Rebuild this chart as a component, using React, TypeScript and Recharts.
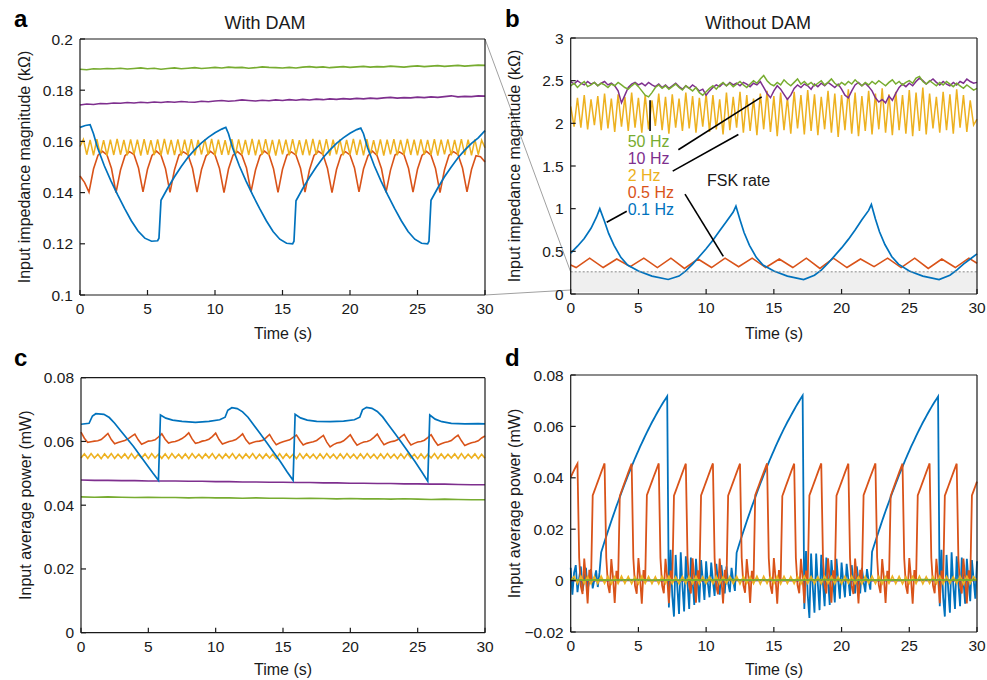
import { LineChart, Line, XAxis, YAxis, ReferenceArea, ReferenceLine } from 'recharts';
import type { ReactNode } from 'react';

const FONT = '"Liberation Sans", Arial, Helvetica, sans-serif';
const BLUE = '#0072BD';
const ORANGE = '#D95319';
const YELLOW = '#EDB120';
const PURPLE = '#7E2F8E';
const GREEN = '#77AC30';
const INK = '#1a1a1a';

const TIME_TICKS = [0, 5, 10, 15, 20, 25, 30];
const A_TICKS = [0.1, 0.12, 0.14, 0.16, 0.18, 0.2];
const B_TICKS = [0, 0.5, 1, 1.5, 2, 2.5, 3];
const C_TICKS = [0, 0.02, 0.04, 0.06, 0.08];
const D_TICKS = [-0.02, 0, 0.02, 0.04, 0.06, 0.08];

// ---- panel a: with DAM, impedance (kOhm) ----
const aGreen = [
  0.1882, 0.1880, 0.1884, 0.1883, 0.1885, 0.1884, 0.1886, 0.1883, 0.1885, 0.1887, 0.1884,
  0.1886, 0.1882, 0.1885, 0.1887, 0.1884, 0.1886, 0.1888, 0.1885, 0.1887, 0.1889,
  0.1887, 0.1890, 0.1888, 0.1889, 0.1886, 0.1888, 0.1891, 0.1889, 0.1888, 0.1887,
  0.1889, 0.1887, 0.1890, 0.1892, 0.1889, 0.1891, 0.1888, 0.1890, 0.1892, 0.1889,
  0.1891, 0.1893, 0.1890, 0.1892, 0.1891, 0.1894, 0.1892, 0.1890, 0.1893, 0.1895,
  0.1892, 0.1894, 0.1896, 0.1893, 0.1895, 0.1897, 0.1894, 0.1896, 0.1898, 0.1897,
];
const aPurple = [
  0.1742, 0.1746, 0.1744, 0.1748, 0.1747, 0.1750, 0.1749, 0.1752, 0.1750, 0.1753, 0.1751,
  0.1754, 0.1752, 0.1755, 0.1753, 0.1756, 0.1754, 0.1753, 0.1757, 0.1755, 0.1758,
  0.1760, 0.1757, 0.1759, 0.1762, 0.1760, 0.1758, 0.1761, 0.1759, 0.1762, 0.1760,
  0.1763, 0.1761, 0.1764, 0.1762, 0.1765, 0.1763, 0.1766, 0.1764, 0.1767, 0.1765,
  0.1768, 0.1766, 0.1769, 0.1767, 0.1770, 0.1772, 0.1769, 0.1771, 0.1770, 0.1773,
  0.1771, 0.1774, 0.1772, 0.1775, 0.1778, 0.1774, 0.1776, 0.1775, 0.1778, 0.1777,
];
const aYellow = [
  0.1580, 0.1608, 0.1548, 0.1606, 0.1546, 0.1609, 0.1549, 0.1605, 0.1545, 0.1607,
  0.1547, 0.1610, 0.1548, 0.1606, 0.1546, 0.1608, 0.1549, 0.1607, 0.1545, 0.1609,
  0.1548, 0.1605, 0.1547, 0.1608, 0.1546, 0.1610, 0.1549, 0.1606, 0.1547, 0.1608,
  0.1545, 0.1607, 0.1548, 0.1609, 0.1546, 0.1606, 0.1549, 0.1608, 0.1547, 0.1610,
  0.1546, 0.1607, 0.1548, 0.1605, 0.1547, 0.1609, 0.1545, 0.1608, 0.1549, 0.1606,
  0.1547, 0.1610, 0.1546, 0.1607, 0.1548, 0.1609, 0.1547, 0.1606, 0.1545, 0.1608,
  0.1549, 0.1607, 0.1546, 0.1609, 0.1548, 0.1605, 0.1547, 0.1608, 0.1546, 0.1610,
  0.1548, 0.1606, 0.1547, 0.1609, 0.1545, 0.1607, 0.1549, 0.1608, 0.1546, 0.1606,
  0.1548, 0.1610, 0.1547, 0.1607, 0.1546, 0.1609, 0.1548, 0.1605, 0.1547, 0.1608,
  0.1545, 0.1607, 0.1549, 0.1609, 0.1546, 0.1606, 0.1548, 0.1610, 0.1547, 0.1607,
  0.1546, 0.1608, 0.1548, 0.1606, 0.1547, 0.1609, 0.1545, 0.1607, 0.1549, 0.1608,
  0.1546, 0.1606, 0.1548, 0.1609, 0.1547, 0.1607, 0.1546, 0.1608, 0.1548, 0.1605,
  0.1575,
];
// sampled every 1/3 s, cusps at the troughs
const aOrange = [
  0.1465, 0.1440,
  0.1402, 0.1492, 0.1546, 0.1561, 0.1547, 0.1494,
  0.1400, 0.1488, 0.1544, 0.1560, 0.1549, 0.1496,
  0.1403, 0.1491, 0.1545, 0.1562, 0.1546, 0.1493,
  0.1401, 0.1489, 0.1547, 0.1559, 0.1548, 0.1495,
  0.1402, 0.1490, 0.1543, 0.1561, 0.1547, 0.1494,
  0.1400, 0.1492, 0.1546, 0.1560, 0.1545, 0.1496,
  0.1403, 0.1488, 0.1544, 0.1562, 0.1548, 0.1493,
  0.1401, 0.1491, 0.1547, 0.1559, 0.1546, 0.1495,
  0.1402, 0.1489, 0.1545, 0.1561, 0.1549, 0.1494,
  0.1400, 0.1490, 0.1546, 0.1560, 0.1547, 0.1496,
  0.1403, 0.1492, 0.1544, 0.1562, 0.1545, 0.1493,
  0.1401, 0.1488, 0.1547, 0.1559, 0.1548, 0.1495,
  0.1402, 0.1491, 0.1545, 0.1561, 0.1546, 0.1494,
  0.1400, 0.1489, 0.1546, 0.1560, 0.1549, 0.1496,
  0.1403, 0.1490, 0.1544, 0.1540, 0.1520,
];
const aBlueT = [
  0, 0.4, 0.75, 1.0, 1.3, 1.8, 2.3, 2.8, 3.3, 3.8, 4.3, 4.8, 5.3, 5.75, 5.85, 6.0, 6.5, 7.0, 7.5, 8.0, 8.5, 9.0, 9.5, 10.0, 10.5, 10.8,
  11.0, 11.3, 11.8, 12.3, 12.8, 13.3, 13.8, 14.3, 14.8, 15.3, 15.75, 15.85, 16.0, 16.5, 17.0, 17.5, 18.0, 18.5, 19.0, 19.5, 20.0, 20.5, 20.8,
  21.0, 21.3, 21.8, 22.3, 22.8, 23.3, 23.8, 24.3, 24.8, 25.3, 25.75, 25.85, 26.0, 26.5, 27.0, 27.5, 28.0, 28.5, 29.0, 29.5, 30.0,
];
const aBlueV = [
  0.1655, 0.1662, 0.1665, 0.1630, 0.1575, 0.1505, 0.1445, 0.1390, 0.1338, 0.1290, 0.1250, 0.1222, 0.1210, 0.1212, 0.1222, 0.1370, 0.1418, 0.1462, 0.1502, 0.1538, 0.1568, 0.1594, 0.1616, 0.1634, 0.1648, 0.1655,
  0.1630, 0.1575, 0.1505, 0.1445, 0.1390, 0.1338, 0.1290, 0.1248, 0.1218, 0.1202, 0.1200, 0.1210, 0.1368, 0.1416, 0.1460, 0.1500, 0.1536, 0.1566, 0.1592, 0.1614, 0.1632, 0.1646, 0.1652,
  0.1630, 0.1575, 0.1505, 0.1445, 0.1390, 0.1338, 0.1290, 0.1248, 0.1218, 0.1202, 0.1200, 0.1210, 0.1370, 0.1418, 0.1462, 0.1500, 0.1536, 0.1566, 0.1592, 0.1614, 0.1642,
];

// ---- panel b: without DAM, impedance (kOhm) ----
const bGreen = [
  2.44, 2.47, 2.42, 2.46, 2.49, 2.43, 2.45, 2.48, 2.44, 2.47,
  2.45, 2.42, 2.46, 2.44, 2.48, 2.45, 2.42, 2.40, 2.44, 2.47,
  2.43, 2.38, 2.33, 2.31, 2.36, 2.42, 2.45, 2.41, 2.44, 2.40,
  2.43, 2.46, 2.42, 2.39, 2.44, 2.41, 2.38, 2.42, 2.36, 2.33,
  2.37, 2.41, 2.44, 2.40, 2.45, 2.48, 2.44, 2.47, 2.43, 2.46,
  2.49, 2.45, 2.42, 2.46, 2.50, 2.47, 2.52, 2.56, 2.50, 2.46,
  2.44, 2.48, 2.45, 2.51, 2.47, 2.44, 2.48, 2.52, 2.46, 2.49,
  2.45, 2.48, 2.44, 2.47, 2.50, 2.45, 2.48, 2.52, 2.47, 2.44,
  2.48, 2.45, 2.49, 2.46, 2.51, 2.47, 2.44, 2.48, 2.45, 2.49,
  2.46, 2.50, 2.47, 2.44, 2.48, 2.51, 2.46, 2.49, 2.45, 2.48,
  2.50, 2.47, 2.53, 2.55, 2.49, 2.46, 2.50, 2.47, 2.44, 2.48,
  2.45, 2.49, 2.46, 2.43, 2.47, 2.44, 2.41, 2.45, 2.42, 2.39,
  2.41,
];
const bPurple = [
  2.49, 2.46, 2.50, 2.47, 2.45, 2.49, 2.46, 2.48, 2.44, 2.47,
  2.49, 2.45, 2.47, 2.44, 2.38, 2.24, 2.33, 2.42, 2.46, 2.48,
  2.45, 2.47, 2.44, 2.48, 2.45, 2.43, 2.46, 2.42, 2.45, 2.41,
  2.44, 2.47, 2.43, 2.40, 2.44, 2.41, 2.45, 2.42, 2.38, 2.40,
  2.33, 2.38, 2.42, 2.45, 2.43, 2.47, 2.44, 2.48, 2.45, 2.47,
  2.44, 2.48, 2.46, 2.43, 2.47, 2.45, 2.49, 2.42, 2.35, 2.30,
  2.38, 2.44, 2.40, 2.34, 2.28, 2.33, 2.41, 2.45, 2.42, 2.46,
  2.44, 2.40, 2.46, 2.43, 2.47, 2.44, 2.48, 2.45, 2.42, 2.46,
  2.40, 2.33, 2.30, 2.38, 2.45, 2.48, 2.44, 2.47, 2.43, 2.38,
  2.30, 2.25, 2.28, 2.24, 2.32, 2.27, 2.35, 2.42, 2.46, 2.43,
  2.47, 2.44, 2.49, 2.53, 2.50, 2.46, 2.49, 2.52, 2.48, 2.45,
  2.49, 2.46, 2.44, 2.48, 2.45, 2.49, 2.47, 2.52, 2.49, 2.47,
  2.48,
];
const bYellow = [
  2.20, 1.96, 2.30, 1.95, 2.33, 1.93, 2.28, 1.98, 2.32, 1.92,
  2.35, 1.94, 2.29, 1.90, 2.34, 1.96, 2.31, 1.91, 2.36, 1.95,
  2.30, 1.89, 2.33, 1.93, 2.27, 1.97, 2.35, 1.92, 2.31, 1.88,
  2.34, 1.95, 2.29, 1.91, 2.36, 1.94, 2.32, 1.89, 2.30, 1.96,
  2.35, 1.90, 2.33, 1.93, 2.28, 1.87, 2.36, 1.92, 2.31, 1.95,
  2.37, 1.89, 2.33, 1.91, 2.29, 1.86, 2.35, 1.93, 2.38, 1.90,
  2.32, 1.85, 2.36, 1.92, 2.30, 1.88, 2.37, 1.94, 2.33, 1.87,
  2.39, 1.91, 2.34, 1.86, 2.31, 1.93, 2.38, 1.89, 2.35, 1.84,
  2.33, 1.92, 2.40, 1.88, 2.36, 1.85, 2.32, 1.91, 2.38, 1.87,
  2.35, 1.93, 2.41, 1.89, 2.34, 1.86, 2.37, 1.92, 2.33, 1.88,
  2.39, 1.85, 2.36, 1.91, 2.42, 1.87, 2.35, 1.94, 2.31, 1.89,
  2.37, 1.92, 2.34, 1.88, 2.40, 1.95, 2.33, 1.90, 2.27, 1.98,
  2.05,
];
const bOrangeT = [
  0, 0.4, 1.4, 2.4, 3.4, 4.4, 5.4, 6.4, 7.4, 8.4, 9.4, 10.4, 11.4, 12.4, 13.4, 14.4,
  15.4, 16.4, 17.4, 18.4, 19.4, 20.4, 21.4, 22.4, 23.4, 24.4, 25.4, 26.4, 27.4, 28.4, 29.4, 30,
];
const bOrangeV = [
  0.34, 0.31, 0.42, 0.31, 0.41, 0.32, 0.42, 0.31, 0.42, 0.30, 0.41, 0.31, 0.42, 0.32, 0.42, 0.31,
  0.41, 0.31, 0.42, 0.30, 0.42, 0.31, 0.41, 0.32, 0.42, 0.31, 0.42, 0.30, 0.41, 0.31, 0.42, 0.36,
];
const bBlueT = [
  0, 0.5, 1, 1.5, 1.9, 2.15, 2.5, 2.8, 3.2, 3.7, 4.2, 5.0, 6.0, 7.2,
  8, 8.5, 9, 9.5, 10, 10.5, 11, 11.5, 12, 12.2, 12.5, 12.8, 13.2, 13.7, 14.2, 15, 16, 17.2,
  18, 18.5, 19, 19.5, 20, 20.5, 21, 21.5, 22, 22.2, 22.5, 22.8, 23.2, 23.7, 24.2, 25, 26, 27.2,
  28, 28.5, 29, 29.5, 30,
];
const bBlueV = [
  0.48, 0.56, 0.65, 0.77, 0.90, 1.00, 0.85, 0.71, 0.57, 0.43, 0.34, 0.27, 0.21, 0.17,
  0.21, 0.27, 0.35, 0.44, 0.53, 0.63, 0.74, 0.85, 0.96, 1.03, 0.87, 0.72, 0.57, 0.43, 0.34, 0.27, 0.21, 0.17,
  0.22, 0.28, 0.36, 0.45, 0.54, 0.64, 0.75, 0.87, 0.98, 1.05, 0.88, 0.73, 0.58, 0.44, 0.35, 0.27, 0.21, 0.17,
  0.22, 0.28, 0.35, 0.41, 0.47,
];
const bLabels = [
  { text: '50 Hz', color: GREEN },
  { text: '10 Hz', color: PURPLE },
  { text: '2 Hz', color: YELLOW },
  { text: '0.5 Hz', color: ORANGE },
  { text: '0.1 Hz', color: BLUE },
];
// pointer lines from the FSK-rate labels to the traces (time, kOhm)
const bPointers = [
  [{ x: 5.86, y: 2.27 }, { x: 5.86, y: 1.91 }],
  [{ x: 7.95, y: 1.69 }, { x: 14.1, y: 2.31 }],
  [{ x: 7.53, y: 1.44 }, { x: 12.38, y: 1.87 }],
  [{ x: 8.44, y: 1.17 }, { x: 11.27, y: 0.44 }],
  [{ x: 2.66, y: 0.84 }, { x: 4.14, y: 0.97 }],
];

// ---- panel c: with DAM, power (mW) ----
const cGreen = [
  0.0426, 0.0425, 0.0426, 0.0425, 0.0424, 0.0425, 0.0424, 0.0424, 0.0423, 0.0424, 0.0423,
  0.0423, 0.0422, 0.0423, 0.0422, 0.0422, 0.0421, 0.0422, 0.0421, 0.0420, 0.0421,
  0.0420, 0.0420, 0.0419, 0.0420, 0.0419, 0.0418, 0.0419, 0.0418, 0.0417, 0.0417,
];
const cPurple = [
  0.0479, 0.0478, 0.0478, 0.0477, 0.0477, 0.0476, 0.0476, 0.0476, 0.0475, 0.0475, 0.0474,
  0.0474, 0.0473, 0.0473, 0.0472, 0.0472, 0.0471, 0.0471, 0.0470, 0.0470, 0.0469,
  0.0469, 0.0468, 0.0468, 0.0467, 0.0467, 0.0466, 0.0466, 0.0465, 0.0464, 0.0464,
];
const cYellow = [
  0.0548, 0.0561, 0.0547, 0.0562, 0.0548, 0.0560, 0.0546, 0.0561, 0.0548, 0.0562,
  0.0547, 0.0560, 0.0548, 0.0561, 0.0546, 0.0562, 0.0547, 0.0560, 0.0548, 0.0561,
  0.0546, 0.0562, 0.0548, 0.0560, 0.0547, 0.0561, 0.0546, 0.0562, 0.0548, 0.0560,
  0.0547, 0.0561, 0.0546, 0.0562, 0.0548, 0.0560, 0.0547, 0.0561, 0.0548, 0.0562,
  0.0546, 0.0560, 0.0547, 0.0561, 0.0548, 0.0562, 0.0546, 0.0560, 0.0547, 0.0561,
  0.0548, 0.0562, 0.0546, 0.0560, 0.0547, 0.0561, 0.0548, 0.0560, 0.0546, 0.0562,
  0.0547, 0.0561, 0.0548, 0.0560, 0.0546, 0.0562, 0.0547, 0.0561, 0.0548, 0.0560,
  0.0546, 0.0561, 0.0547, 0.0562, 0.0548, 0.0560, 0.0546, 0.0561, 0.0547, 0.0562,
  0.0548, 0.0560, 0.0546, 0.0561, 0.0547, 0.0562, 0.0548, 0.0560, 0.0546, 0.0561,
  0.0547, 0.0562, 0.0548, 0.0560, 0.0546, 0.0561, 0.0547, 0.0562, 0.0548, 0.0560,
  0.0546, 0.0561, 0.0547, 0.0560, 0.0548, 0.0562, 0.0546, 0.0561, 0.0547, 0.0560,
  0.0548, 0.0561, 0.0546, 0.0562, 0.0547, 0.0560, 0.0548, 0.0561, 0.0546, 0.0560,
  0.0547,
];
const cOrange = [
  0.0629, 0.0610, 0.0597, 0.0599, 0.0601, 0.0602, 0.0606, 0.0615,
  0.0625, 0.0606, 0.0593, 0.0597, 0.0600, 0.0603, 0.0608, 0.0616,
  0.0623, 0.0605, 0.0591, 0.0596, 0.0601, 0.0602, 0.0605, 0.0614,
  0.0624, 0.0607, 0.0595, 0.0598, 0.0600, 0.0604, 0.0609, 0.0617,
  0.0627, 0.0608, 0.0594, 0.0597, 0.0601, 0.0603, 0.0607, 0.0615,
  0.0626, 0.0606, 0.0592, 0.0596, 0.0600, 0.0602, 0.0606, 0.0614,
  0.0624, 0.0605, 0.0593, 0.0597, 0.0600, 0.0601, 0.0604, 0.0612,
  0.0622, 0.0604, 0.0590, 0.0595, 0.0599, 0.0602, 0.0605, 0.0613,
  0.0620, 0.0603, 0.0589, 0.0594, 0.0597, 0.0599, 0.0603, 0.0611,
  0.0619, 0.0598, 0.0583, 0.0590, 0.0595, 0.0597, 0.0602, 0.0611,
  0.0621, 0.0603, 0.0588, 0.0594, 0.0598, 0.0600, 0.0604, 0.0613,
  0.0623, 0.0605, 0.0590, 0.0595, 0.0599, 0.0601, 0.0605, 0.0614,
  0.0622, 0.0604, 0.0589, 0.0594, 0.0598, 0.0600, 0.0604, 0.0612,
  0.0621, 0.0603, 0.0588, 0.0593, 0.0597, 0.0599, 0.0603, 0.0612,
  0.0620, 0.0602, 0.0587, 0.0592, 0.0596, 0.0598, 0.0602, 0.0611,
  0.0617,
];
const cBlueT = [
  0, 0.6, 0.85, 1.1, 1.7, 2.1, 2.5, 2.9, 3.4, 3.9, 4.4, 4.9, 5.35, 5.75,
  5.9, 6.3, 6.8, 7.5, 8.5, 9.5, 10.3, 10.7, 10.9,
  11.2, 11.6, 12.0, 12.4, 12.8, 13.3, 13.8, 14.3, 14.8, 15.3, 15.75,
  15.9, 16.3, 16.8, 17.5, 18.5, 19.5, 20.3, 20.7, 20.9,
  21.2, 21.6, 22.0, 22.4, 22.8, 23.3, 23.8, 24.3, 24.8, 25.3, 25.75,
  25.9, 26.3, 26.8, 27.5, 28.5, 29.5, 30,
];
const cBlueV = [
  0.0654, 0.0657, 0.0680, 0.0687, 0.0685, 0.0675, 0.0657, 0.0636, 0.0610, 0.0584, 0.0555, 0.0526, 0.0500, 0.0478,
  0.0683, 0.0673, 0.0667, 0.0663, 0.0660, 0.0663, 0.0668, 0.0676, 0.0698,
  0.0706, 0.0703, 0.0693, 0.0676, 0.0653, 0.0625, 0.0596, 0.0566, 0.0537, 0.0505, 0.0478,
  0.0685, 0.0674, 0.0667, 0.0663, 0.0662, 0.0664, 0.0668, 0.0676, 0.0699,
  0.0707, 0.0704, 0.0694, 0.0677, 0.0654, 0.0626, 0.0597, 0.0567, 0.0537, 0.0505, 0.0475,
  0.0683, 0.0670, 0.0662, 0.0657, 0.0655, 0.0656, 0.0655,
];

// ---- panel d: without DAM, power (mW) ----
const dGreen = [
  0.0003, 0.0002, 0.0003, 0.0002, 0.0003, 0.0004, 0.0002, 0.0003, 0.0002, 0.0003, 0.0002,
  0.0003, 0.0004, 0.0002, 0.0003, 0.0002, 0.0003, 0.0002, 0.0003, 0.0004, 0.0003,
  0.0002, 0.0003, 0.0002, 0.0003, 0.0002, 0.0004, 0.0003, 0.0002, 0.0003, 0.0002,
];
const dPurple = [
  0.0001, 0.0000, 0.0001, 0.0000, 0.0001, 0.0001, 0.0000, 0.0001, 0.0000, 0.0001, 0.0000,
  0.0001, 0.0001, 0.0000, 0.0001, 0.0000, 0.0001, 0.0000, 0.0001, 0.0001, 0.0000,
  0.0001, 0.0000, 0.0001, 0.0000, 0.0001, 0.0001, 0.0000, 0.0001, 0.0000, 0.0001,
];
const dYellow = [
  0.0000, 0.0016, -0.0012, 0.0017, -0.0011, 0.0015, -0.0013, 0.0016, -0.0012, 0.0017,
  -0.0011, 0.0016, -0.0013, 0.0015, -0.0012, 0.0017, -0.0011, 0.0016, -0.0012, 0.0015,
  -0.0013, 0.0017, -0.0011, 0.0016, -0.0012, 0.0015, -0.0013, 0.0016, -0.0011, 0.0017,
  -0.0012, 0.0015, -0.0013, 0.0016, -0.0011, 0.0017, -0.0012, 0.0016, -0.0013, 0.0015,
  -0.0011, 0.0016, -0.0012, 0.0017, -0.0013, 0.0015, -0.0011, 0.0016, -0.0012, 0.0017,
  -0.0013, 0.0016, -0.0011, 0.0015, -0.0012, 0.0017, -0.0013, 0.0016, -0.0011, 0.0015,
  -0.0012, 0.0017, -0.0013, 0.0016, -0.0011, 0.0015, -0.0012, 0.0016, -0.0013, 0.0017,
  -0.0011, 0.0016, -0.0012, 0.0015, -0.0013, 0.0017, -0.0011, 0.0016, -0.0012, 0.0015,
  -0.0013, 0.0016, -0.0011, 0.0017, -0.0012, 0.0015, -0.0013, 0.0016, -0.0011, 0.0017,
  -0.0012, 0.0016, -0.0013, 0.0015, -0.0011, 0.0017, -0.0012, 0.0016, -0.0013, 0.0015,
  -0.0011, 0.0016, -0.0012, 0.0017, -0.0013, 0.0015, -0.0011, 0.0016, -0.0012, 0.0017,
  -0.0013, 0.0016, -0.0011, 0.0015, -0.0012, 0.0017, -0.0013, 0.0016, -0.0011, 0.0015,
  0.0000,
];
// sampled every 0.125 s; each 2 s cycle: peak, drop, ringing, jump, ramp
const dOrange = [
  0.0402, 0.0416, 0.0430, 0.0443,
  0.0455, 0.0088, -0.0022, -0.0052, 0.0086, 0.0008, -0.0089, 0.0042, -0.0004, 0.0331, 0.0349, 0.0367, 0.0385, 0.0403, 0.0421, 0.0439,
  0.0456, 0.0090, -0.0018, -0.0048, 0.0084, 0.0012, -0.0087, 0.0038, -0.0006, 0.0329, 0.0347, 0.0366, 0.0384, 0.0402, 0.0420, 0.0438,
  0.0455, 0.0087, -0.0021, -0.0051, 0.0088, 0.0009, -0.0090, 0.0041, -0.0003, 0.0332, 0.0350, 0.0368, 0.0386, 0.0404, 0.0421, 0.0439,
  0.0456, 0.0089, -0.0019, -0.0049, 0.0085, 0.0011, -0.0088, 0.0039, -0.0005, 0.0330, 0.0348, 0.0366, 0.0384, 0.0402, 0.0420, 0.0438,
  0.0455, 0.0091, -0.0020, -0.0050, 0.0087, 0.0010, -0.0086, 0.0040, -0.0004, 0.0331, 0.0349, 0.0367, 0.0385, 0.0403, 0.0421, 0.0439,
  0.0456, 0.0088, -0.0022, -0.0053, 0.0086, 0.0008, -0.0089, 0.0042, -0.0006, 0.0330, 0.0348, 0.0366, 0.0384, 0.0402, 0.0420, 0.0438,
  0.0455, 0.0090, -0.0018, -0.0047, 0.0084, 0.0012, -0.0087, 0.0038, -0.0003, 0.0332, 0.0350, 0.0368, 0.0386, 0.0404, 0.0421, 0.0439,
  0.0456, 0.0087, -0.0021, -0.0051, 0.0088, 0.0009, -0.0090, 0.0041, -0.0005, 0.0329, 0.0347, 0.0366, 0.0384, 0.0402, 0.0420, 0.0438,
  0.0455, 0.0089, -0.0019, -0.0049, 0.0085, 0.0011, -0.0088, 0.0039, -0.0004, 0.0331, 0.0349, 0.0367, 0.0385, 0.0403, 0.0421, 0.0439,
  0.0456, 0.0091, -0.0020, -0.0050, 0.0087, 0.0010, -0.0086, 0.0040, -0.0006, 0.0330, 0.0348, 0.0366, 0.0384, 0.0402, 0.0420, 0.0438,
  0.0455, 0.0088, -0.0022, -0.0052, 0.0086, 0.0008, -0.0089, 0.0042, -0.0003, 0.0332, 0.0350, 0.0368, 0.0386, 0.0404, 0.0421, 0.0439,
  0.0456, 0.0090, -0.0018, -0.0048, 0.0084, 0.0012, -0.0087, 0.0038, -0.0005, 0.0329, 0.0347, 0.0366, 0.0384, 0.0402, 0.0420, 0.0438,
  0.0455, 0.0087, -0.0021, -0.0051, 0.0088, 0.0009, -0.0090, 0.0041, -0.0004, 0.0331, 0.0349, 0.0367, 0.0385, 0.0403, 0.0421, 0.0439,
  0.0456, 0.0089, -0.0019, -0.0049, 0.0085, 0.0011, -0.0088, 0.0039, -0.0006, 0.0330, 0.0348, 0.0366, 0.0384, 0.0402, 0.0420, 0.0438,
  0.0455, 0.0088, -0.0020, -0.0050, 0.0086, 0.0010, -0.0089, 0.0040, -0.0004, 0.0331, 0.0349, 0.0367, 0.0385,
];
// sampled every 0.125 s; ringing, then a slow charge up to ~0.072, then a sharp drop
const dBlue = [
  0.0050, -0.0055, 0.0030, 0.0060, -0.0045, 0.0010, 0.0055, -0.0040, 0.0005, 0.0050, -0.0035, 0.0000, 0.0045, -0.0030, 0.0005, 0.0040, -0.0025, 0.0030,
  0.0110, 0.0131, 0.0152, 0.0172, 0.0192, 0.0212, 0.0232, 0.0251, 0.0270, 0.0289,
  0.0307, 0.0325, 0.0343, 0.0361, 0.0378, 0.0395, 0.0412, 0.0428, 0.0444, 0.0460,
  0.0476, 0.0491, 0.0506, 0.0521, 0.0535, 0.0549, 0.0563, 0.0577, 0.0590, 0.0603,
  0.0616, 0.0628, 0.0640, 0.0652, 0.0664, 0.0675, 0.0686, 0.0697, 0.0707, 0.0717,
  -0.0105, 0.0120, -0.0060, -0.0140, 0.0100, -0.0030, -0.0130, 0.0110, -0.0020, -0.0120,
  0.0095, -0.0010, -0.0110, 0.0090, 0.0000, -0.0095, 0.0085, -0.0005, -0.0085, 0.0080,
  0.0005, -0.0075, 0.0075, -0.0010, -0.0065, 0.0070, 0.0000, -0.0060, 0.0065, -0.0005,
  -0.0055, 0.0060, 0.0000, -0.0050, 0.0055, -0.0010, -0.0045, 0.0050, 0.0000, -0.0040,
  0.0108, 0.0130, 0.0151, 0.0171, 0.0191, 0.0211, 0.0231, 0.0250, 0.0269, 0.0288,
  0.0306, 0.0324, 0.0342, 0.0360, 0.0377, 0.0394, 0.0411, 0.0428, 0.0444, 0.0460,
  0.0476, 0.0491, 0.0506, 0.0521, 0.0536, 0.0550, 0.0564, 0.0578, 0.0591, 0.0604,
  0.0617, 0.0629, 0.0641, 0.0653, 0.0665, 0.0677, 0.0688, 0.0699, 0.0710, 0.0720,
  -0.0110, 0.0115, -0.0055, -0.0145, 0.0105, -0.0025, -0.0125, 0.0105, -0.0015, -0.0115,
  0.0100, -0.0010, -0.0100, 0.0090, 0.0005, -0.0095, 0.0080, 0.0000, -0.0085, 0.0085,
  0.0000, -0.0070, 0.0070, -0.0005, -0.0065, 0.0065, 0.0005, -0.0060, 0.0060, -0.0010,
  -0.0050, 0.0055, 0.0000, -0.0050, 0.0050, -0.0005, -0.0045, 0.0045, 0.0000, -0.0035,
  0.0112, 0.0133, 0.0153, 0.0173, 0.0193, 0.0213, 0.0233, 0.0252, 0.0271, 0.0289,
  0.0307, 0.0325, 0.0343, 0.0360, 0.0377, 0.0394, 0.0411, 0.0427, 0.0443, 0.0459,
  0.0475, 0.0490, 0.0505, 0.0520, 0.0534, 0.0548, 0.0562, 0.0576, 0.0589, 0.0602,
  0.0615, 0.0627, 0.0639, 0.0651, 0.0663, 0.0674, 0.0685, 0.0696, 0.0706, 0.0716,
  -0.0100, 0.0120, -0.0065, -0.0140, 0.0100, -0.0035, -0.0125, 0.0110, -0.0020, -0.0110,
  0.0095, -0.0010, -0.0100, 0.0090, 0.0000, -0.0090, 0.0085, -0.0005, -0.0080, 0.0080,
  0.0005, -0.0070, 0.0075,
];

type Pt = { t: number; v: number };
const grid = (vals: number[], dt: number): Pt[] => vals.map((v, i) => ({ t: i * dt, v }));
const zip = (ts: number[], vs: number[]): Pt[] => ts.map((t, i) => ({ t, v: vs[i] }));

type SeriesDef = { name: string; color: string; width: number; data: Pt[] };
type Margin = { top: number; right: number; bottom: number; left: number };

const fmt = (v: number) => (v < 0 ? `\u2212${Math.abs(v)}` : `${v}`);

function Panel(props: {
  left: number;
  top: number;
  width: number;
  height: number;
  margin: Margin;
  yDomain: [number, number];
  yTicks: number[];
  yLabel: string;
  series: SeriesDef[];
  children?: ReactNode;
}) {
  const { left, top, width, height, margin, yDomain, yTicks, yLabel, series, children } = props;
  const frame = { stroke: INK, strokeWidth: 1.2 };
  const tickStyle = { fontSize: 15.5, fill: INK, fontFamily: FONT };
  const labelStyle = { fontSize: 16, fill: INK, fontFamily: FONT };
  return (
    <div style={{ position: 'absolute', left, top }}>
      <LineChart width={width} height={height} margin={margin}>
        <XAxis
          xAxisId="bottom"
          type="number"
          dataKey="t"
          domain={[0, 30]}
          ticks={TIME_TICKS}
          interval={0}
          height={44}
          tickSize={-5}
          tickMargin={13}
          tick={tickStyle}
          tickLine={frame}
          axisLine={frame}
        />
        <XAxis
          xAxisId="top"
          orientation="top"
          type="number"
          domain={[0, 30]}
          ticks={TIME_TICKS}
          interval={0}
          height={1}
          tickSize={-5}
          tick={false}
          tickLine={frame}
          axisLine={frame}
        />
        <YAxis
          yAxisId="left"
          type="number"
          domain={yDomain}
          ticks={yTicks}
          interval={0}
          width={60}
          tickSize={-5}
          tickMargin={12}
          tick={tickStyle}
          tickFormatter={fmt}
          tickLine={frame}
          axisLine={frame}
          label={{
            value: yLabel,
            angle: -90,
            position: 'insideLeft',
            offset: 4,
            style: { ...labelStyle, textAnchor: 'middle' },
          }}
        />
        <YAxis
          yAxisId="right"
          orientation="right"
          type="number"
          domain={yDomain}
          ticks={yTicks}
          interval={0}
          width={1}
          tickSize={-5}
          tick={false}
          tickLine={frame}
          axisLine={frame}
        />
        {series.map((s) => (
          <Line
            key={s.name}
            name={s.name}
            xAxisId="bottom"
            yAxisId="left"
            data={s.data}
            dataKey="v"
            type="linear"
            stroke={s.color}
            strokeWidth={s.width}
            dot={false}
            activeDot={false}
            isAnimationActive={false}
          />
        ))}
        {children}
      </LineChart>
    </div>
  );
}

const Z_LABEL = 'Input impedance magnitude (k\u03A9)';
const P_LABEL = 'Input average power (mW)';

export default function App() {
  const seriesA: SeriesDef[] = [
    { name: '0.5 Hz', color: ORANGE, width: 1.6, data: grid(aOrange, 1 / 3) },
    { name: '2 Hz', color: YELLOW, width: 1.5, data: grid(aYellow, 0.25) },
    { name: '10 Hz', color: PURPLE, width: 1.6, data: grid(aPurple, 0.5) },
    { name: '50 Hz', color: GREEN, width: 1.6, data: grid(aGreen, 0.5) },
    { name: '0.1 Hz', color: BLUE, width: 1.7, data: zip(aBlueT, aBlueV) },
  ];
  const seriesB: SeriesDef[] = [
    { name: '2 Hz', color: YELLOW, width: 1.5, data: grid(bYellow, 0.25) },
    { name: '10 Hz', color: PURPLE, width: 1.5, data: grid(bPurple, 0.25) },
    { name: '50 Hz', color: GREEN, width: 1.5, data: grid(bGreen, 0.25) },
    { name: '0.5 Hz', color: ORANGE, width: 1.6, data: zip(bOrangeT, bOrangeV) },
    { name: '0.1 Hz', color: BLUE, width: 1.7, data: zip(bBlueT, bBlueV) },
  ];
  const seriesC: SeriesDef[] = [
    { name: '50 Hz', color: GREEN, width: 1.6, data: grid(cGreen, 1) },
    { name: '10 Hz', color: PURPLE, width: 1.6, data: grid(cPurple, 1) },
    { name: '2 Hz', color: YELLOW, width: 1.6, data: grid(cYellow, 0.25) },
    { name: '0.5 Hz', color: ORANGE, width: 1.6, data: grid(cOrange, 0.25) },
    { name: '0.1 Hz', color: BLUE, width: 1.7, data: zip(cBlueT, cBlueV) },
  ];
  const seriesD: SeriesDef[] = [
    { name: '0.1 Hz', color: BLUE, width: 1.8, data: grid(dBlue, 0.125) },
    { name: '0.5 Hz', color: ORANGE, width: 1.8, data: grid(dOrange, 0.125) },
    { name: '10 Hz', color: PURPLE, width: 1.6, data: grid(dPurple, 1) },
    { name: '2 Hz', color: YELLOW, width: 1.6, data: grid(dYellow, 0.25) },
    { name: '50 Hz', color: GREEN, width: 1.8, data: grid(dGreen, 1) },
  ];

  const letter = { fontFamily: FONT, fontSize: 24, fontWeight: 700, fill: '#000' };
  const title = { fontFamily: FONT, fontSize: 18, fill: INK, textAnchor: 'middle' as const };
  const axisTitle = { fontFamily: FONT, fontSize: 16, fill: INK, textAnchor: 'middle' as const };
  const note = { fontFamily: FONT, fontSize: 16 };

  return (
    <div
      style={{
        position: 'absolute',
        left: 0,
        top: 0,
        width: 987,
        height: 680,
        background: '#fff',
        overflow: 'hidden',
      }}
    >
      <svg width={987} height={680} style={{ position: 'absolute', left: 0, top: 0 }}>
        <line x1={485} y1={39} x2={570.7} y2={272} stroke="#a0a0a0" strokeWidth={1} />
        <line x1={485} y1={295} x2={570.7} y2={290} stroke="#a0a0a0" strokeWidth={1} />
      </svg>

      <Panel
        left={0}
        top={0}
        width={500}
        height={340}
        margin={{ top: 38, right: 14, bottom: 1, left: 20 }}
        yDomain={[0.1, 0.2]}
        yTicks={A_TICKS}
        yLabel={Z_LABEL}
        series={seriesA}
      />
      <Panel
        left={490}
        top={0}
        width={497}
        height={340}
        margin={{ top: 37, right: 9, bottom: 2, left: 20.7 }}
        yDomain={[0, 3]}
        yTicks={B_TICKS}
        yLabel={Z_LABEL}
        series={seriesB}
      >
        <ReferenceArea
          xAxisId="bottom"
          yAxisId="left"
          x1={0}
          x2={30}
          y1={0.02}
          y2={0.26}
          fill="#e4e4e4"
          fillOpacity={0.6}
          stroke="none"
        />
        <ReferenceLine
          xAxisId="bottom"
          yAxisId="left"
          y={0.26}
          stroke="#8a8a8a"
          strokeDasharray="2 2"
          strokeWidth={1}
        />
        {bPointers.map((seg, i) => (
          <ReferenceLine
            key={i}
            xAxisId="bottom"
            yAxisId="left"
            segment={seg}
            stroke="#000"
            strokeWidth={1.6}
          />
        ))}
      </Panel>
      <Panel
        left={0}
        top={340}
        width={500}
        height={340}
        margin={{ top: 36.7, right: 14, bottom: 3.3, left: 21 }}
        yDomain={[0, 0.08]}
        yTicks={C_TICKS}
        yLabel={P_LABEL}
        series={seriesC}
      />
      <Panel
        left={490}
        top={340}
        width={497}
        height={340}
        margin={{ top: 34, right: 9, bottom: 4, left: 20.7 }}
        yDomain={[-0.02, 0.08]}
        yTicks={D_TICKS}
        yLabel={P_LABEL}
        series={seriesD}
      />

      <svg
        width={987}
        height={680}
        style={{ position: 'absolute', left: 0, top: 0, pointerEvents: 'none' }}
      >
        <text x={14} y={27} style={letter}>a</text>
        <text x={505} y={27} style={letter}>b</text>
        <text x={14} y={366} style={letter}>c</text>
        <text x={505} y={366} style={letter}>d</text>
        <text x={265} y={29} style={title}>With DAM</text>
        <text x={758} y={29} style={title}>Without DAM</text>
        <text x={283} y={339} style={axisTitle}>Time (s)</text>
        <text x={774} y={339} style={axisTitle}>Time (s)</text>
        <text x={283} y={675} style={axisTitle}>Time (s)</text>
        <text x={774} y={675} style={axisTitle}>Time (s)</text>
        {bLabels.map((l, i) => (
          <text key={l.text} x={627.7} y={146.5 + i * 17.1} style={{ ...note, fill: l.color }}>
            {l.text}
          </text>
        ))}
        <text x={707} y={185.7} style={{ ...note, fill: INK }}>FSK rate</text>
      </svg>
    </div>
  );
}
